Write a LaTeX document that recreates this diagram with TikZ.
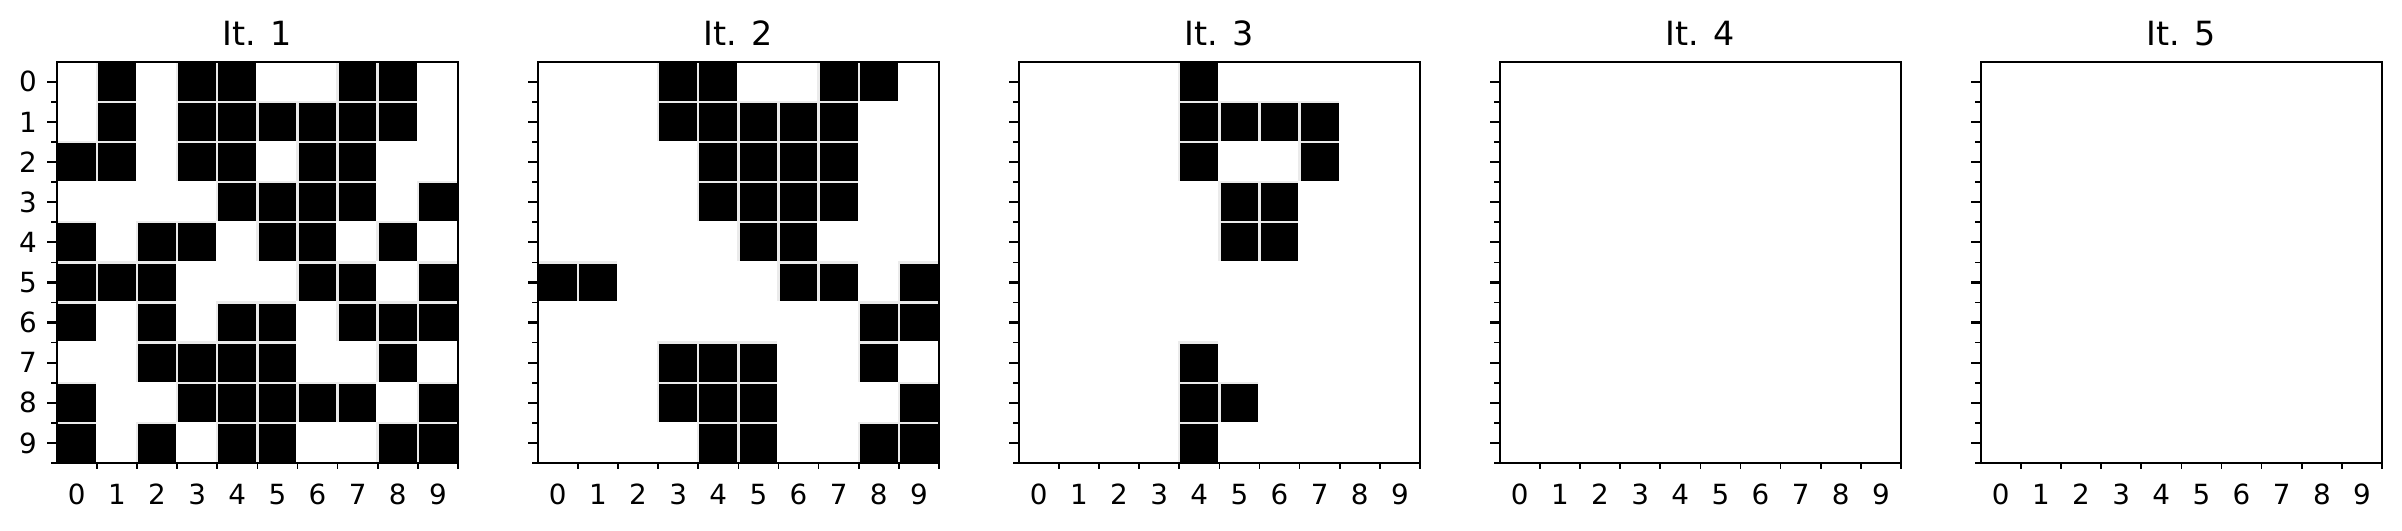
\documentclass[tikz,border=0pt]{standalone}
\usepackage{fontspec}
\setmainfont{DejaVu Sans}
\def\gridA{{0,1,0,1,1,0,0,1,1,0,
0,1,0,1,1,1,1,1,1,0,
1,1,0,1,1,0,1,1,0,0,
0,0,0,0,1,1,1,1,0,1,
1,0,1,1,0,1,1,0,1,0,
1,1,1,0,0,0,1,1,0,1,
1,0,1,0,1,1,0,1,1,1,
0,0,1,1,1,1,0,0,1,0,
1,0,0,1,1,1,1,1,0,1,
1,0,1,0,1,1,0,0,1,1}}
\def\gridB{{0,0,0,1,1,0,0,1,1,0,
0,0,0,1,1,1,1,1,0,0,
0,0,0,0,1,1,1,1,0,0,
0,0,0,0,1,1,1,1,0,0,
0,0,0,0,0,1,1,0,0,0,
1,1,0,0,0,0,1,1,0,1,
0,0,0,0,0,0,0,0,1,1,
0,0,0,1,1,1,0,0,1,0,
0,0,0,1,1,1,0,0,0,1,
0,0,0,0,1,1,0,0,1,1}}
\def\gridC{{0,0,0,0,1,0,0,0,0,0,
0,0,0,0,1,1,1,1,0,0,
0,0,0,0,1,0,0,1,0,0,
0,0,0,0,0,1,1,0,0,0,
0,0,0,0,0,1,1,0,0,0,
0,0,0,0,0,0,0,0,0,0,
0,0,0,0,0,0,0,0,0,0,
0,0,0,0,1,0,0,0,0,0,
0,0,0,0,1,1,0,0,0,0,
0,0,0,0,1,0,0,0,0,0}}
\def\gridZ{{0}}
\begin{document}
\begin{tikzpicture}[x=0.36pt,y=-0.36pt,
  titletext/.style={font=\fontsize{12}{14}\selectfont, anchor=base, inner sep=0pt},
  ticklbl/.style={font=\fontsize{10}{12}\selectfont, inner sep=0pt},
  spine/.style={line width=0.8pt, draw=black},
  majortick/.style={line width=0.8pt, draw=black},
  minortick/.style={line width=0.6pt, draw=black},
  oncell/.style={fill=black, draw=black!8, line width=0.9pt},
  offcell/.style={fill=white, draw=white, line width=0.9pt}]
\useasboundingbox (0,0) rectangle (2402,530);
\def\S{401.3}
\def\T{61.7}
\def\C{40.13}
\foreach \k/\g in {0/\gridA,1/\gridB,2/\gridC,3/\gridZ,4/\gridZ}{
  \pgfmathsetmacro{\L}{56.7+481*\k}
  \pgfmathtruncatemacro{\n}{\k+1}
  \ifnum\k<3
  \begin{scope}
    \clip (\L,\T) rectangle (\L+\S,\T+\S);
    \foreach \r in {0,...,9}{
      \foreach \c in {0,...,9}{
        \pgfmathtruncatemacro{\v}{\g[\r*10+\c]}
        \ifnum\v=1
          \draw[oncell] (\L+\c*\C,\T+\r*\C) rectangle ++(\C,\C);
        \else
          \draw[offcell] (\L+\c*\C,\T+\r*\C) rectangle ++(\C,\C);
        \fi
      }
    }
  \end{scope}
  \fi
  \draw[spine] (\L,\T) rectangle ++(\S,\S);
  \foreach \r in {0,...,9}{
    \draw[majortick] (\L,\T+\r*\C+\C/2) -- ++(-9.7,0);
  }
  \foreach \r in {1,...,10}{
    \draw[minortick] (\L,\T+\r*\C) -- ++(-5.6,0);
    \draw[minortick] (\L+\r*\C,\T+\S) -- ++(0,5.6);
  }
  \foreach \c in {0,...,9}{
    \node[ticklbl, anchor=base] (xl\k-\c) at (\L+\c*\C+\C/2,504.3) {\c};
  }
  \ifnum\k=0
    \foreach \r in {0,...,9}{
      \node[ticklbl, anchor=east] (yl\r) at (\L-19.4,\T+\r*\C+\C/2) {\r};
    }
  \fi
  \node[titletext] (title\k) at (\L+\S/2,45.7) {It. \n};
}
\end{tikzpicture}
\end{document}
